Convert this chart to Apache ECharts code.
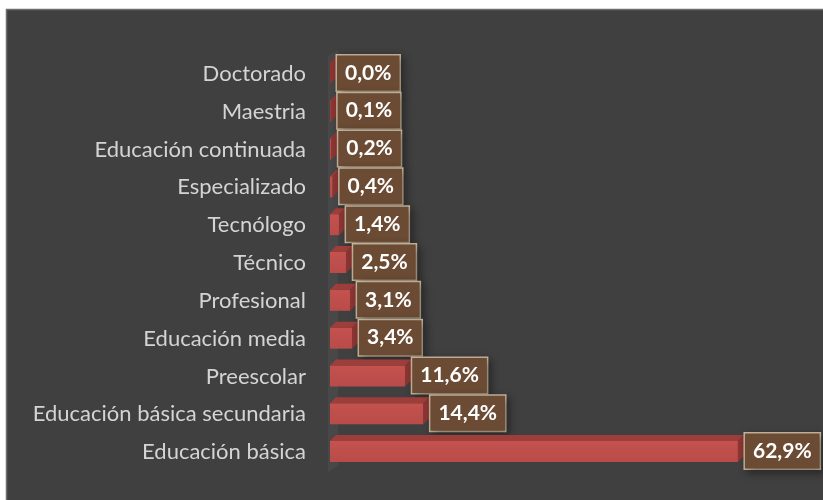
<!DOCTYPE html>
<html>
<head>
<meta charset="utf-8">
<script src="https://cdn.jsdelivr.net/npm/echarts@6/dist/echarts.min.js"></script>
<style>
	html, body { margin: 0; padding: 0; background: #fff; }
	#chart { width: 823px; height: 500px; }
</style>
</head>
<body>
<div id="chart"></div>
<script>
// categories, top to bottom
var categories = [
	"Doctorado",
	"Maestria",
	"Educación continuada",
	"Especializado",
	"Tecnólogo",
	"Técnico",
	"Profesional",
	"Educación media",
	"Preescolar",
	"Educación básica secundaria",
	"Educación básica"
];
var values = [0.0, 0.1, 0.2, 0.4, 1.4, 2.5, 3.1, 3.4, 11.6, 14.4, 62.9];

var DX = 6, DY = 6;

function fmt(v) {
	return v.toFixed(1).replace(".", ",") + "%";
}

function renderBar(params, api) {
	var idx = api.value(1);
	var v = api.value(0);
	var p0 = api.coord([0, idx]);
	var p1 = api.coord([v, idx]);
	var x0 = p0[0], x1 = p1[0], c = p0[1];
	var top = c - 11, bot = c + 10;
	return {
		type: "group",
		children: [{
			type: "rect",
			shape: { x: x0, y: top, width: x1 - x0, height: bot - top },
			style: {
				fill: new echarts.graphic.LinearGradient(0, 0, 0, 1, [
					{ offset: 0, color: "#c4524f" },
					{ offset: 1, color: "#b94b48" }
				])
			}
		}, {
			type: "polygon",
			shape: { points: [[x0, top], [x1, top], [x1 + DX, top - DY], [x0 + DX, top - DY]] },
			style: { fill: "#9e3e3b" }
		}, {
			type: "polygon",
			shape: { points: [[x1, top], [x1 + DX, top - DY], [x1 + DX, bot - DY], [x1, bot]] },
			style: { fill: "#8e3633" }
		}, {
			type: "text",
			x: x1 + DX + 1,
			y: c - 1,
			style: {
				text: fmt(v),
				fill: "#ffffff",
				fontFamily: "Lato",
				fontWeight: "bold",
				fontSize: 21,
				align: "left",
				verticalAlign: "middle",
				backgroundColor: "#6b4b33",
				borderColor: "#c8b79e",
				borderWidth: 1.5,
				padding: [7, 8, 7, 8],
				shadowBlur: 8,
				shadowColor: "rgba(0,0,0,0.35)",
				shadowOffsetX: 3,
				shadowOffsetY: 3
			}
		}]
	};
}

var chart = echarts.init(document.getElementById("chart"));
var option = {
	backgroundColor: "#ffffff",
	animation: false,
	graphic: [{
		type: "rect",
		z: -10,
		shape: { x: 6.5, y: 9.5, width: 830, height: 500 },
		style: { fill: "#404040", stroke: "#6e6e6e", lineWidth: 1.5 }
	}, {
		type: "polygon",
		z: -5,
		shape: { points: [[328, 56], [338, 50], [338, 466], [328, 472]] },
		style: { fill: "#484848" }
	}],
	grid: {
		left: 330,
		right: 39,
		top: 55,
		height: 416
	},
	xAxis: {
		type: "value",
		min: 0,
		max: 70,
		show: false
	},
	yAxis: {
		type: "category",
		data: categories,
		inverse: true,
		axisLine: { show: false },
		axisTick: { show: false },
		splitLine: { show: false },
		axisLabel: {
			margin: 24,
			color: "#d4d4d4",
			fontFamily: "Lato",
			fontSize: 22
		}
	},
	series: [{
		type: "custom",
		renderItem: renderBar,
		encode: { x: 0, y: 1 },
		data: values.map(function(v, i) { return [v, i]; })
	}]
};
chart.setOption(option);
</script>
</body>
</html>
